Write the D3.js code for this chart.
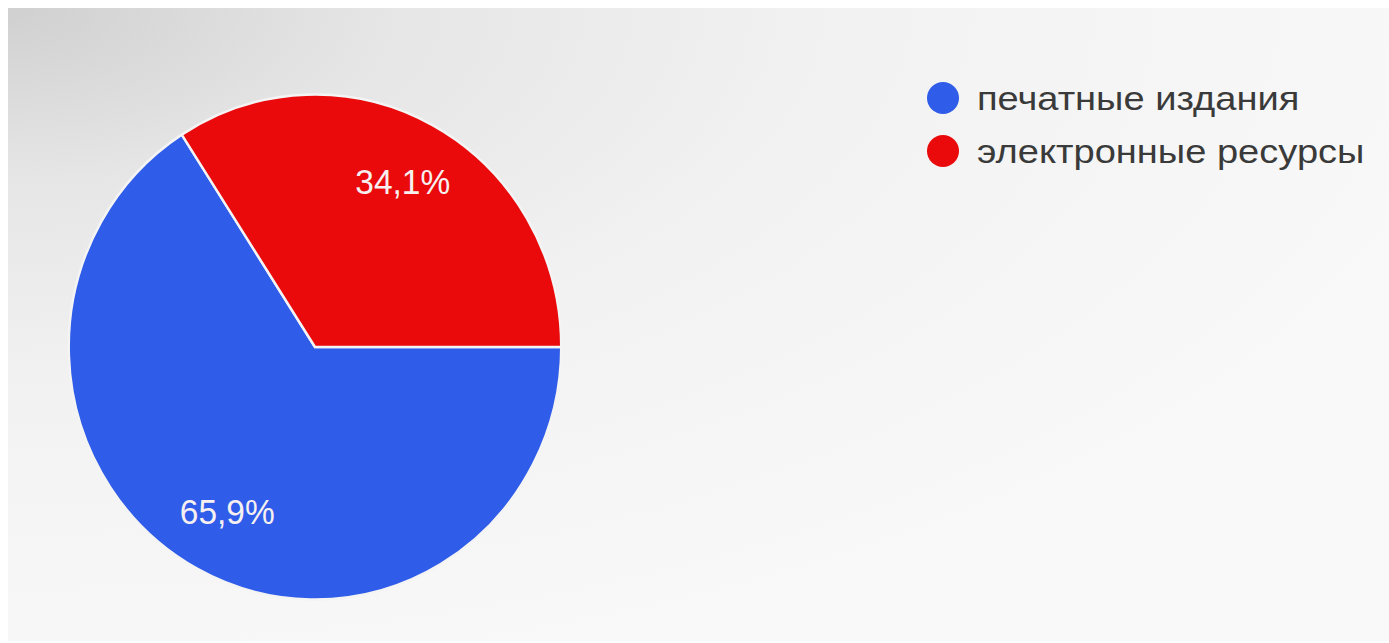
<!DOCTYPE html>
<html>
<head>
<meta charset="utf-8">
<script src="https://cdn.jsdelivr.net/npm/d3@7"></script>
<style>
  html, body { margin: 0; padding: 0; background: #ffffff; }
  svg { display: block; }
</style>
</head>
<body>
<svg id="chart" width="1389" height="643"></svg>
<script>
const categories = ["печатные издания", "электронные ресурсы"];
const values = [65.9, 34.1];
const labels = ["65,9%", "34,1%"];
const colors = ["#2f5ce8", "#ea0a0c"];

const svg = d3.select("#chart");
const W = 1389, H = 643;

// photographed-screen background
const defs = svg.append("defs");
const g1 = defs.append("radialGradient").attr("id", "bg")
  .attr("cx", "0").attr("cy", "0").attr("r", "1.1")
  .attr("gradientUnits", "objectBoundingBox");
g1.append("stop").attr("offset", "0").attr("stop-color", "#d0d0d0");
g1.append("stop").attr("offset", "0.25").attr("stop-color", "#e6e6e6");
g1.append("stop").attr("offset", "0.55").attr("stop-color", "#f2f2f2");
g1.append("stop").attr("offset", "1").attr("stop-color", "#f9f9f9");
svg.append("rect").attr("x", 8).attr("y", 8).attr("width", W - 8).attr("height", H - 10)
  .attr("fill", "url(#bg)");

const cx = 315, cy = 347, R = 250;
const pie = d3.pie().sort(null).value(d => d)
  .startAngle(Math.PI / 2).endAngle(Math.PI / 2 + 2 * Math.PI);
const arcs = pie(values);
const arc = d3.arc().innerRadius(0).outerRadius(R);
const labelArc = d3.arc().innerRadius(186).outerRadius(186);

const g = svg.append("g").attr("transform", `translate(${cx},${cy}) scale(0.985,1.01)`);
g.selectAll("path.slice").data(arcs).join("path")
  .attr("class", "slice")
  .attr("d", arc)
  .attr("fill", (d, i) => colors[i])
  .attr("stroke", "#f4f4f4")
  .attr("stroke-width", 2.5)
  .attr("stroke-linejoin", "round");

g.selectAll("text.lbl").data(arcs).join("text")
  .attr("class", "lbl")
  .attr("transform", d => `translate(${labelArc.centroid(d)})`)
  .attr("text-anchor", "middle")
  .attr("dy", "0.36em")
  .attr("font-family", "Liberation Sans, Arial, sans-serif")
  .attr("font-size", 34)
  .attr("fill", "#f6f0f0")
  .text((d, i) => labels[i]);

// legend
const legend = svg.append("g").attr("transform", "translate(943,98)");
const rowH = 53;
const items = legend.selectAll("g").data(categories).join("g")
  .attr("transform", (d, i) => `translate(0, ${i * rowH})`);
items.append("circle").attr("r", 16).attr("fill", (d, i) => colors[i]);
items.append("text")
  .attr("transform", "translate(34,0) scale(1.12,1)")
  .attr("dy", "0.35em")
  .attr("font-family", "Liberation Sans, Arial, sans-serif")
  .attr("font-size", 34)
  .attr("fill", "#3a3a3a")
  .text(d => d);
</script>
</body>
</html>
